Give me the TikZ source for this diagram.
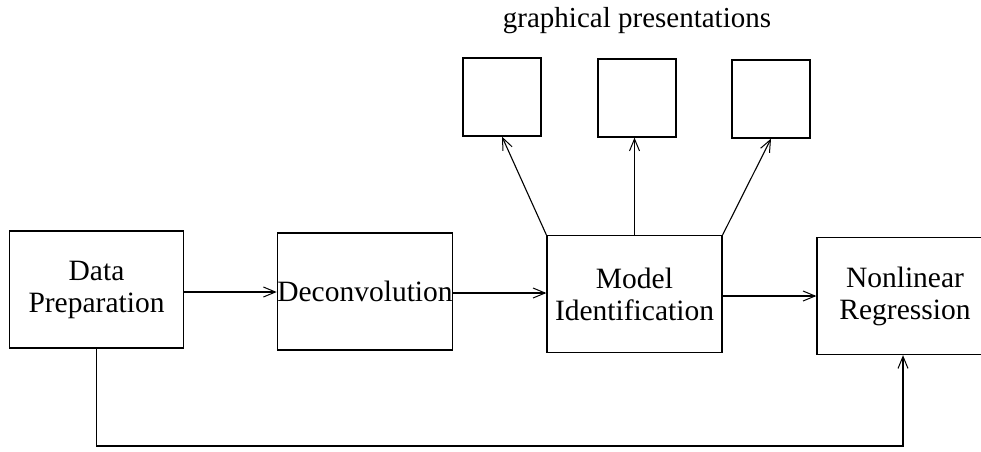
\documentclass[tikz,border=0pt]{standalone}
\usepackage{fontspec}
\setmainfont{Liberation Serif}
\usetikzlibrary{arrows.meta}
\begin{document}
\begin{tikzpicture}[x=1pt,y=-1pt,
  every path/.style={line width=1.2pt},
  blk/.style={draw,line width=1.3pt,inner sep=0pt,align=center,minimum width=174pt,minimum height=117pt,font=\fontsize{29.5}{32}\selectfont},
  pres/.style={draw,line width=1.3pt,minimum width=78pt,minimum height=78pt,inner sep=0pt},
  flow/.style={-{Straight Barb[length=12pt,width=10pt,line width=1pt]},line width=1.1pt}]
\useasboundingbox (0,0) rectangle (981,451);
\node[blk] (dp) at (96.5,289.5) {Data\\Preparation};
\node[blk] (dc) at (365,291.5) {Deconvolution};
\node[blk,minimum width=175pt] (mi) at (634.5,294) {Model\\Identification};
\node[blk,minimum width=176pt] (nr) at (905,296) {Nonlinear\\Regression};
\node[pres] (b1) at (502,97) {};
\node[pres] (b2) at (637,98) {};
\node[pres] (b3) at (771,99) {};
\node[font=\fontsize{29}{32}\selectfont] (title) at (637,21) {graphical presentations};
\draw[flow] (dp.east |- 0,292) -- (dc.west |- 0,292);
\draw[flow] (dc.east |- 0,293) -- (mi.west |- 0,293);
\draw[flow] (mi.east |- 0,296) -- (nr.west |- 0,296);
\draw[flow] (mi.north west) -- (b1.south);
\draw[flow] (mi.north) -- (b2.south -| mi.north);
\draw[flow] (mi.north east) -- (b3.south);
\coordinate (fb) at (903,446);
\draw[flow] (dp.south) |- (fb) -- (nr.south -| fb);
\end{tikzpicture}
\end{document}
